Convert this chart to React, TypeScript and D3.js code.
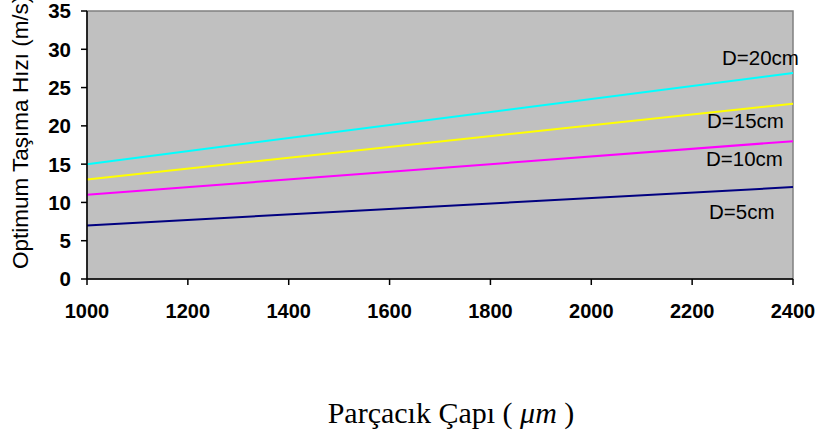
import React from "react";
import * as d3 from "d3";

// series (straight lines, 1000 → 2400 µm)
const diameters = [1000, 2400];
const seriesNames = ["D=5cm", "D=10cm", "D=15cm", "D=20cm"];
const d5 = [7, 12];
const d10 = [11, 18];
const d15 = [13, 22.9];
const d20 = [15, 26.9];
const xTicks = [1000, 1200, 1400, 1600, 1800, 2000, 2200, 2400];
const yTicks = [0, 5, 10, 15, 20, 25, 30, 35];

const seriesValues = [d5, d10, d15, d20];
const seriesColors = ["#000080", "#FF00FF", "#FFFF00", "#00FFFF"];

// label placement in pixels (annotation text, not marks)
const labelPos = [
  { x: 709, y: 219 },
  { x: 706, y: 166 },
  { x: 707, y: 128 },
  { x: 722, y: 65 },
];

const WIDTH = 820;
const HEIGHT = 441;
const PLOT = { left: 87, right: 793, top: 11, bottom: 279 };

const App = () => {
  const xScale = d3
    .scaleLinear()
    .domain([1000, 2400])
    .range([PLOT.left, PLOT.right]);
  const yScale = d3
    .scaleLinear()
    .domain([0, 35])
    .range([PLOT.bottom, PLOT.top]);

  const line = d3
    .line<[number, number]>()
    .x((d) => xScale(d[0]))
    .y((d) => yScale(d[1]));

  const sans = "'Liberation Sans', Arial, sans-serif";

  return (
    <svg
      width={WIDTH}
      height={HEIGHT}
      style={{ position: "absolute", left: 0, top: 0, background: "#fff" }}
    >
      {/* plot area */}
      <rect
        x={PLOT.left}
        y={PLOT.top}
        width={PLOT.right - PLOT.left}
        height={PLOT.bottom - PLOT.top}
        fill="#C0C0C0"
        stroke="#808080"
        strokeWidth={1.5}
      />

      {/* lines */}
      {seriesValues.map((vals, i) => (
        <path
          key={seriesNames[i]}
          d={line(diameters.map((x, j) => [x, vals[j]] as [number, number])) || ""}
          fill="none"
          stroke={seriesColors[i]}
          strokeWidth={2}
        />
      ))}

      {/* series labels */}
      {seriesNames.map((name, i) => (
        <text
          key={name}
          x={labelPos[i].x}
          y={labelPos[i].y}
          fontFamily={sans}
          fontSize={20.5}
          fill="#000"
        >
          {name}
        </text>
      ))}

      {/* y axis */}
      <line
        x1={PLOT.left}
        x2={PLOT.left}
        y1={PLOT.top}
        y2={PLOT.bottom}
        stroke="#000"
        strokeWidth={1.5}
      />
      {yTicks.map((t) => (
        <g key={t}>
          <line
            x1={PLOT.left - 6}
            x2={PLOT.left}
            y1={yScale(t)}
            y2={yScale(t)}
            stroke="#000"
            strokeWidth={1.5}
          />
          <text
            x={71}
            y={yScale(t)}
            dy="0.36em"
            textAnchor="end"
            fontFamily={sans}
            fontWeight="bold"
            fontSize={20.5}
          >
            {t}
          </text>
        </g>
      ))}

      {/* x axis */}
      <line
        x1={PLOT.left}
        x2={PLOT.right}
        y1={PLOT.bottom}
        y2={PLOT.bottom}
        stroke="#000"
        strokeWidth={1.5}
      />
      {xTicks.map((t) => (
        <g key={t}>
          <line
            x1={xScale(t)}
            x2={xScale(t)}
            y1={PLOT.bottom}
            y2={PLOT.bottom + 6}
            stroke="#000"
            strokeWidth={1.5}
          />
          <text
            x={xScale(t)}
            y={317.5}
            textAnchor="middle"
            fontFamily={sans}
            fontWeight="bold"
            fontSize={20}
          >
            {t}
          </text>
        </g>
      ))}

      {/* axis titles */}
      <text
        transform="translate(27.5, 269) rotate(-90)"
        fontFamily={sans}
        fontSize={22.5}
      >
        Optimum Taşıma Hızı (m/s)
      </text>
      <text
        x={451}
        y={423}
        textAnchor="middle"
        fontFamily="'Liberation Serif', 'Times New Roman', serif"
        fontSize={30}
      >
        Parçacık Çapı (  <tspan fontStyle="italic">μm</tspan> )
      </text>
    </svg>
  );
};

export default App;
